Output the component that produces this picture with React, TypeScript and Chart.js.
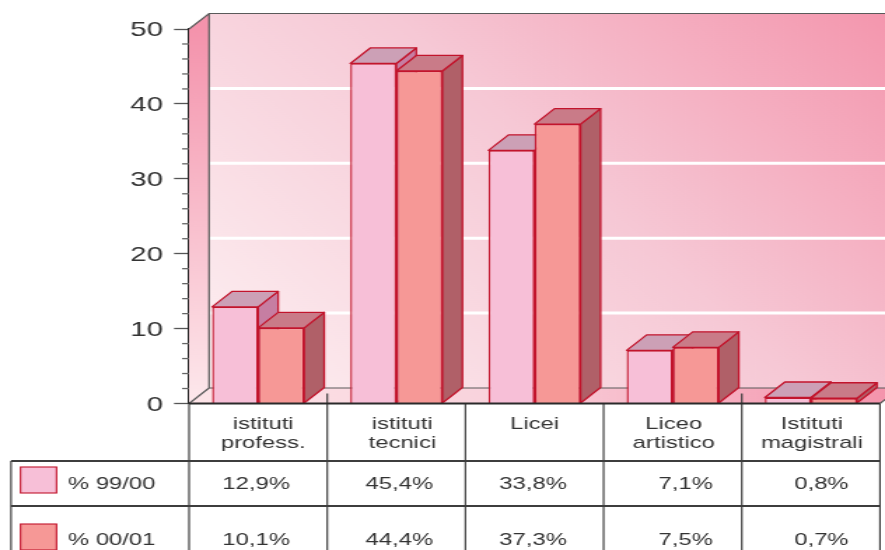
import React, { useEffect, useRef } from "react";
import { Chart, registerables } from "chart.js";

Chart.register(...registerables);

const categories: (string | string[])[] = [
  ["istituti", "profess."],
  ["istituti", "tecnici"],
  "Licei",
  ["Liceo", "artistico"],
  ["Istituti", "magistrali"],
];
const series99 = [12.9, 45.4, 33.8, 7.1, 0.8];
const series00 = [10.1, 44.4, 37.3, 7.5, 0.7];
const seriesNames = ["% 99/00", "% 00/01"];
const yTicks = [0, 10, 20, 30, 40, 50];
const minorTicks = [2, 4, 6, 8, 12, 14, 16, 18, 22, 24, 26, 28, 32, 34, 36, 38, 42, 44, 46, 48];

// The whole reference is stretched horizontally; the canvas is stretched the same way.
const K = 1.4;
const X = (px: number) => px / K;
const DX = X(20);
const DY = -15.5;
const INK = "#333333";
const LINE = "#3d3d3d";
const RED = "#c2142c";
const FACES = [
  { top: "#cca0b6", side: "#c67ea2" },
  { top: "#c97b88", side: "#b06068" },
];
const COL_SHIFT = [-2, 3, -1.5, 13, 10.5];
const LABEL_SHIFT = [5, 6, 0, 1, 1];

const fmt = (v: number) => v.toFixed(1).replace(".", ",") + "%";

function poly(ctx: CanvasRenderingContext2D, pts: number[][], fill: string | CanvasGradient, stroke?: string) {
  ctx.beginPath();
  pts.forEach((p, i) => (i ? ctx.lineTo(p[0], p[1]) : ctx.moveTo(p[0], p[1])));
  ctx.closePath();
  ctx.fillStyle = fill;
  ctx.fill();
  if (stroke) {
    ctx.strokeStyle = stroke;
    ctx.lineWidth = 1.3;
    ctx.stroke();
  }
}

const scenePlugin = {
  id: "scene",
  beforeDraw(chart: any) {
    // small per-label nudges of the axis text
    chart.scales.y.getLabelItems().forEach((item: any) => {
      item.textOffset += 1.3;
    });
    chart.scales.x.getLabelItems().forEach((item: any, i: number) => {
      item.options.translation[0] += X(LABEL_SHIFT[i]);
    });
  },
  beforeDatasetsDraw(chart: any) {
    const { ctx, chartArea: a, scales } = chart;
    const y = scales.y;
    const right = a.right;
    ctx.save();
    // back wall
    const wall = ctx.createLinearGradient(a.left + DX, a.bottom + DY, right, a.top + DY);
    wall.addColorStop(0, "#fdf0f2");
    wall.addColorStop(0.55, "#f6c8d5");
    wall.addColorStop(1, "#f497ae");
    poly(ctx, [[a.left + DX, a.top + DY], [X(885), a.top + DY], [X(885), a.bottom + DY], [a.left + DX, a.bottom + DY]], wall);
    // left wall
    const side = ctx.createLinearGradient(a.left, a.top, a.left + DX, a.bottom);
    side.addColorStop(0, "#f493ac");
    side.addColorStop(1, "#fde8ec");
    poly(ctx, [[a.left, a.top], [a.left + DX, a.top + DY], [a.left + DX, a.bottom + DY], [a.left, a.bottom]], side);
    // floor
    const floor = ctx.createLinearGradient(a.left, a.bottom, X(885), a.bottom + DY);
    floor.addColorStop(0, "#fde4e8");
    floor.addColorStop(0.45, "#f9d2dc");
    floor.addColorStop(1, "#f494ac");
    poly(ctx, [[a.left, a.bottom], [right, a.bottom], [right + DX, a.bottom + DY], [a.left + DX, a.bottom + DY]], floor);
    // white grid on the back wall
    ctx.strokeStyle = "#ffffff";
    ctx.lineWidth = 3;
    yTicks.slice(1, -1).forEach((v) => {
      const py = y.getPixelForValue(v) + DY;
      ctx.beginPath();
      ctx.moveTo(a.left + DX, py);
      ctx.lineTo(X(885), py);
      ctx.stroke();
    });
    // wall outline
    ctx.strokeStyle = "#5a5a5a";
    ctx.lineWidth = 1.2;
    ctx.beginPath();
    ctx.moveTo(a.left, a.top);
    ctx.lineTo(a.left + DX, a.top + DY);
    ctx.lineTo(X(885), a.top + DY);
    ctx.moveTo(a.left + DX, a.top + DY);
    ctx.lineTo(a.left + DX, a.bottom + DY);
    ctx.lineTo(X(885), a.bottom + DY);
    ctx.moveTo(a.left, a.bottom);
    ctx.lineTo(a.left + DX, a.bottom + DY);
    ctx.moveTo(right, a.bottom);
    ctx.lineTo(right + DX, a.bottom + DY);
    ctx.stroke();
    // minor ticks
    ctx.strokeStyle = "#666666";
    ctx.lineWidth = 1.3;
    minorTicks.forEach((v) => {
      const py = y.getPixelForValue(v);
      ctx.beginPath();
      ctx.moveTo(a.left - X(7), py);
      ctx.lineTo(a.left, py);
      ctx.stroke();
    });
    // depth faces of the bars: first series first, so the second covers it
    ctx.lineJoin = "round";
    [0, 1].forEach((index) => {
      const face = FACES[index];
      chart.getDatasetMeta(index).data.forEach((bar: any) => {
        const { x, y: top, base, width } = bar.getProps(["x", "y", "base", "width"], true);
        const l = x - width / 2;
        const r = x + width / 2;
        poly(ctx, [[r, top], [r + DX, top + DY], [r + DX, base + DY], [r, base]], face.side, RED);
        poly(ctx, [[l, top], [r, top], [r + DX, top + DY], [l + DX, top + DY]], face.top, RED);
      });
    });
    ctx.restore();
  },
  afterDraw(chart: any) {
    const { ctx, chartArea: a, scales } = chart;
    const x = scales.x;
    const rows = [
      { name: seriesNames[0], vals: series99, color: "#f7bfd7", line: 461, text: 484, swatch: 467 },
      { name: seriesNames[1], vals: series00, color: "#f69896", line: 506, text: 540, swatch: 524 },
    ];
    const cols = [0, 1, 2, 3, 4].map((i) => x.getPixelForValue(i));
    const cw = cols[1] - cols[0];
    const edges = [...cols.map((c) => c - cw / 2), cols[4] + cw / 2];
    ctx.save();
    // table lines; two of them rise a little onto the floor
    ctx.strokeStyle = LINE;
    ctx.lineWidth = 1.2;
    edges.forEach((ex, i) => {
      ctx.beginPath();
      ctx.moveTo(ex, i === 1 || i === 4 ? a.bottom - 10 : a.bottom);
      ctx.lineTo(ex, 550);
      ctx.stroke();
    });
    ctx.beginPath();
    ctx.moveTo(X(11), 461);
    ctx.lineTo(X(11), 550);
    ctx.stroke();
    ctx.lineWidth = 1.8;
    rows.forEach((r) => {
      ctx.beginPath();
      ctx.moveTo(X(11), r.line);
      ctx.lineTo(edges[5], r.line);
      ctx.stroke();
    });
    // table contents
    ctx.font = '17px "Liberation Sans"';
    ctx.textBaseline = "middle";
    rows.forEach((r) => {
      ctx.fillStyle = r.color;
      ctx.strokeStyle = RED;
      ctx.lineWidth = 1.1;
      ctx.fillRect(X(20.5), r.swatch, X(36), 26);
      ctx.strokeRect(X(20.5), r.swatch, X(36), 26);
      ctx.fillStyle = INK;
      ctx.textAlign = "left";
      ctx.fillText(r.name, X(68), r.text);
      ctx.textAlign = "center";
      r.vals.forEach((v, i) => ctx.fillText(fmt(v), cols[i] + X(COL_SHIFT[i]), r.text));
    });
    // axis baseline on top of the bars
    ctx.strokeStyle = "#2a2a2a";
    ctx.lineWidth = 2.2;
    ctx.beginPath();
    ctx.moveTo(a.left, a.bottom);
    ctx.lineTo(a.right, a.bottom);
    ctx.stroke();
    ctx.restore();
  },
};

export default function App() {
  const ref = useRef<HTMLCanvasElement>(null);
  useEffect(() => {
    const chart = new Chart(ref.current as HTMLCanvasElement, {
      type: "bar",
      data: {
        labels: categories,
        datasets: [
          { label: seriesNames[0], data: series99, backgroundColor: "#f7bfd7", borderColor: RED, borderWidth: 1.4, clip: false },
          { label: seriesNames[1], data: series00, backgroundColor: "#f69896", borderColor: RED, borderWidth: 1.4, clip: false },
        ],
      },
      options: {
        animation: false,
        responsive: false,
        devicePixelRatio: 1,
        datasets: { bar: { categoryPercentage: 2 / 3, barPercentage: 1 } },
        layout: { padding: { left: X(189) - 60, right: X(5), top: 29, bottom: 0 } },
        plugins: { legend: { display: false }, tooltip: { enabled: false } },
        scales: {
          x: {
            grid: { display: false, drawTicks: false },
            border: { display: false },
            afterFit(s: any) { s.height = 146.5; },
            ticks: {
              autoSkip: false,
              maxRotation: 0,
              minRotation: 0,
              padding: 11,
              color: INK,
              font: { family: "Liberation Sans", size: 17, lineHeight: 19 / 17 },
            },
          },
          y: {
            min: 0,
            max: 50,
            afterFit(s: any) { s.width = 60; },
            afterBuildTicks(s: any) { s.ticks = yTicks.map((value) => ({ value })); },
            grid: { drawOnChartArea: false, drawTicks: true, tickLength: X(15), tickColor: "#555555", tickWidth: 1.3 },
            border: { display: true, color: "#222222", width: 2 },
            ticks: {
              padding: X(11),
              color: INK,
              font: { family: "Liberation Sans", size: 21 },
            },
          },
        },
      },
      plugins: [scenePlugin],
    } as any);
    return () => chart.destroy();
  }, []);
  return (
    <div style={{ position: "fixed", left: 0, top: 0, width: 885, height: 550, overflow: "hidden", background: "#fff" }}>
      <canvas
        ref={ref}
        width={Math.round(885 / K)}
        height={550}
        style={{ display: "block", width: 885, height: 550 }}
      />
    </div>
  );
}
